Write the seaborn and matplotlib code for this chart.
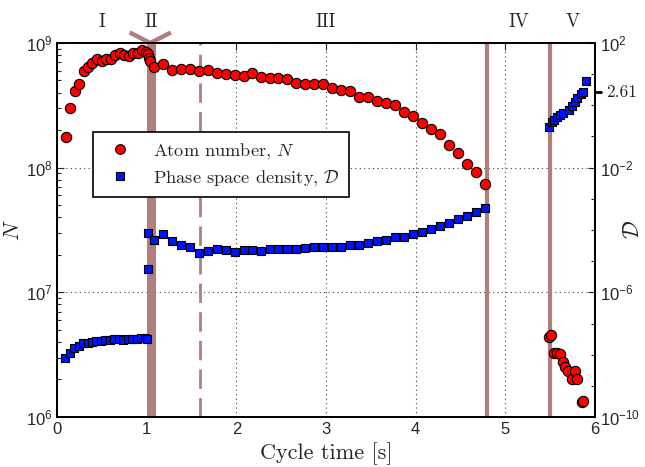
import numpy as np
import pandas as pd
import seaborn as sns
import matplotlib.pyplot as plt
import matplotlib.ticker as ticker
import matplotlib.transforms as mtransforms
from matplotlib.lines import Line2D

# atom number N (red circles, left axis)
t_atoms = [0.10, 0.15, 0.20, 0.25, 0.30, 0.35, 0.39, 0.45, 0.50, 0.55, 0.60,
           0.65, 0.70, 0.75, 0.80, 0.85, 0.90, 0.95, 0.99, 1.01, 1.03, 1.04,
           1.08, 1.18, 1.28, 1.38, 1.48, 1.58, 1.68, 1.78, 1.88, 1.98,
           2.08, 2.18, 2.27, 2.37, 2.47, 2.57, 2.67, 2.77, 2.87, 2.97,
           3.07, 3.17, 3.27, 3.37, 3.47, 3.57, 3.67, 3.77, 3.87, 3.97,
           4.07, 4.17, 4.27, 4.37, 4.47, 4.57, 4.67, 4.77,
           5.485, 5.51, 5.545, 5.575, 5.61, 5.64, 5.67, 5.70, 5.745, 5.775,
           5.80, 5.85, 5.87]
atoms = [1.76e8, 3.02e8, 4.15e8, 4.67e8, 6.0e8, 6.46e8, 6.87e8, 7.4e8, 7.13e8,
         7.4e8, 7.4e8, 7.96e8, 8.36e8, 7.96e8, 7.87e8, 8.36e8, 8.36e8, 8.79e8,
         8.51e8, 8.17e8, 7.53e8, 7.21e8,
         6.38e8, 6.76e8, 6.07e8, 6.17e8, 6.17e8, 5.93e8, 6.07e8, 5.78e8,
         5.68e8, 5.57e8,
         5.43e8, 5.78e8, 5.33e8, 5.21e8, 5.21e8, 5.18e8, 4.81e8, 4.67e8,
         4.67e8, 4.69e8,
         4.39e8, 4.2e8, 4.15e8, 3.67e8, 3.72e8, 3.44e8, 3.3e8, 3.16e8,
         2.78e8, 2.58e8,
         2.3e8, 2.06e8, 1.85e8, 1.52e8, 1.30e8, 1.07e8, 9.19e7, 7.45e7,
         4.42e6, 4.55e6, 3.24e6, 3.24e6, 3.21e6, 2.78e6, 2.51e6, 2.36e6,
         2.01e6, 2.36e6, 2.0e6, 1.33e6, 1.35e6]

# phase space density D (blue squares, right axis)
t_psd = [0.09, 0.145, 0.19, 0.245, 0.29, 0.34, 0.39, 0.44, 0.49, 0.54, 0.59,
         0.64, 0.69, 0.74, 0.79, 0.84, 0.89, 0.94, 0.985, 1.00, 1.02, 1.02,
         1.08, 1.18, 1.28, 1.38, 1.48, 1.58, 1.68, 1.78, 1.88, 1.98,
         2.08, 2.18, 2.27, 2.37, 2.47, 2.57, 2.67, 2.77, 2.87, 2.97,
         3.07, 3.17, 3.27, 3.37, 3.47, 3.57, 3.67, 3.77, 3.87, 3.97,
         4.07, 4.17, 4.27, 4.37, 4.47, 4.57, 4.67, 4.77,
         5.485, 5.515, 5.545, 5.575, 5.61, 5.645, 5.71, 5.745, 5.775, 5.80,
         5.84, 5.87, 5.90]
psd = [7.66e-9, 1.16e-8, 1.60e-8, 1.91e-8, 2.32e-8, 2.43e-8, 2.63e-8, 2.75e-8,
       2.82e-8, 2.88e-8, 3.02e-8, 3.16e-8, 3.24e-8, 3.02e-8, 3.09e-8, 3.24e-8,
       3.24e-8, 3.35e-8, 3.35e-8, 3.24e-8, 5.5e-6, 7.85e-5,
       4.79e-5, 7.24e-5, 4.47e-5, 3.31e-5, 2.79e-5, 1.79e-5, 2.19e-5, 2.40e-5,
       2.29e-5, 2.02e-5,
       2.34e-5, 2.29e-5, 2.19e-5, 2.40e-5, 2.51e-5, 2.51e-5, 2.40e-5, 2.57e-5,
       2.79e-5, 2.92e-5,
       2.92e-5, 2.92e-5, 3.24e-5, 3.39e-5, 3.89e-5, 4.37e-5, 4.9e-5, 5.89e-5,
       6.17e-5, 7.41e-5,
       8.91e-5, 1.10e-4, 1.38e-4, 1.70e-4, 2.24e-4, 2.88e-4, 3.89e-4, 5.25e-4,
       0.207, 0.30, 0.34, 0.41, 0.49, 0.58, 0.71, 0.98, 1.32, 1.68, 2.26,
       2.75, 6.17]

stage_names = ['I', 'II', 'III', 'IV', 'V']
stage_label_t = [0.5, 1.05, 3.0, 5.15, 5.75]
transfer_t = 1.05
dashed_t = 1.6
stage_lines = [4.8, 5.5]
psd_final = 2.61

df_atoms = pd.DataFrame({'t': t_atoms, 'N': atoms})
df_psd = pd.DataFrame({'t': t_psd, 'D': psd})

sns.set_style('white')
plt.rcParams['font.family'] = ['Liberation Sans', 'DejaVu Sans']
plt.rcParams['mathtext.fontset'] = 'cm'
serif = ['cmr10', 'DejaVu Serif']
line_col = '#b17e7e'

fig = plt.figure(figsize=(6.45, 4.67), dpi=100)
ax = fig.add_axes([0.0884, 0.107, 0.8341, 0.801])
ax.set_yscale('log')
ax2 = ax.twinx()
ax2.set_yscale('log')

sns.scatterplot(data=df_atoms, x='t', y='N', ax=ax, marker='o', color='red',
                edgecolor='black', linewidth=0.8, s=55, zorder=4, legend=False)
sns.scatterplot(data=df_psd, x='t', y='D', ax=ax2, marker='s', color='#0014ff',
                edgecolor='black', linewidth=0.8, s=38, zorder=4, legend=False)

ax.axvline(transfer_t, color=line_col, lw=6.5, zorder=2)
ax.axvline(dashed_t, color=line_col, lw=2, dashes=(7, 3.3), zorder=2)
for t in stage_lines:
    ax.axvline(t, color=line_col, lw=3, zorder=2)
trans = mtransforms.blended_transform_factory(ax.transData, ax.transAxes)
ax.plot([transfer_t - 0.24, transfer_t - 0.01, transfer_t + 0.22],
        [1.028, 1.0, 1.028], transform=trans, color=line_col, lw=3.2,
        clip_on=False, solid_capstyle='butt')

for name, t in zip(stage_names, stage_label_t):
    ax.text(t, 1.055, name, transform=trans, ha='center', va='center',
            family=serif, fontsize=13.5)

ax.set_xlim(0, 6)
ax.set_ylim(1e6, 1e9)
ax2.set_ylim(1e-10, 1e2)
ax.set_xticks([0, 1, 2, 3, 4, 5, 6])
ax.yaxis.set_major_locator(ticker.LogLocator(base=10, numticks=10))
ax.yaxis.set_minor_locator(ticker.LogLocator(base=10, subs=np.arange(2, 10), numticks=20))
ax.yaxis.set_minor_formatter(ticker.NullFormatter())
ax2.set_yticks([1e-10, 1e-6, 1e-2, 1e2])
ax2.yaxis.set_minor_locator(ticker.LogLocator(base=10, subs=[1.0], numticks=20))
ax2.yaxis.set_minor_formatter(ticker.NullFormatter())

ax.grid(True, which='major', ls=(0, (1, 3)), color='0.25', lw=0.8)
ax.set_axisbelow(True)
ax.tick_params(axis='both', which='both', direction='in', top=True, right=False,
               labelsize=12, width=0.8)
ax.tick_params(which='major', length=5)
ax.tick_params(which='minor', length=3)
ax2.tick_params(axis='y', which='both', direction='in', labelsize=12, width=0.8)
ax2.tick_params(which='major', length=5)
ax2.tick_params(which='minor', length=3)
for a in (ax, ax2):
    for sp in a.spines.values():
        sp.set_linewidth(1.4)
        sp.set_color('black')

ytrans = mtransforms.blended_transform_factory(ax2.transAxes, ax2.transData)
ax2.plot([1.0, 1.011], [psd_final, psd_final], transform=ytrans, color='black',
         lw=2, clip_on=False)
ax2.text(1.02, psd_final, f'{psd_final:.2f}', transform=ytrans, va='center',
         ha='left', family=serif, fontsize=12.5)

ax.set_xlabel('Cycle time [s]', family=serif, fontsize=16, labelpad=4)
ax.set_ylabel('$N$', fontsize=16)
ax.yaxis.set_label_coords(-0.062, 0.5)
ax2.set_ylabel(r'$\mathcal{D}$', fontsize=16, rotation=90)
ax2.yaxis.set_label_coords(1.052, 0.5)

handles = [
    Line2D([], [], ls='none', marker='o', color='red', markeredgecolor='black',
           markeredgewidth=0.8, markersize=7),
    Line2D([], [], ls='none', marker='s', color='#0014ff', markeredgecolor='black',
           markeredgewidth=0.8, markersize=5.5),
]
leg = ax2.legend(handles, ['Atom number, $N$', r'Phase space density, $\mathcal{D}$'],
                 loc='upper left', bbox_to_anchor=(0.066, 0.763), borderaxespad=0,
                 prop={'family': serif, 'size': 13.2}, fancybox=False,
                 framealpha=1, edgecolor='black', handletextpad=0.8,
                 borderpad=0.5, labelspacing=0.4)
leg.get_frame().set_linewidth(1.2)

fig.savefig('out.png', dpi=100)
